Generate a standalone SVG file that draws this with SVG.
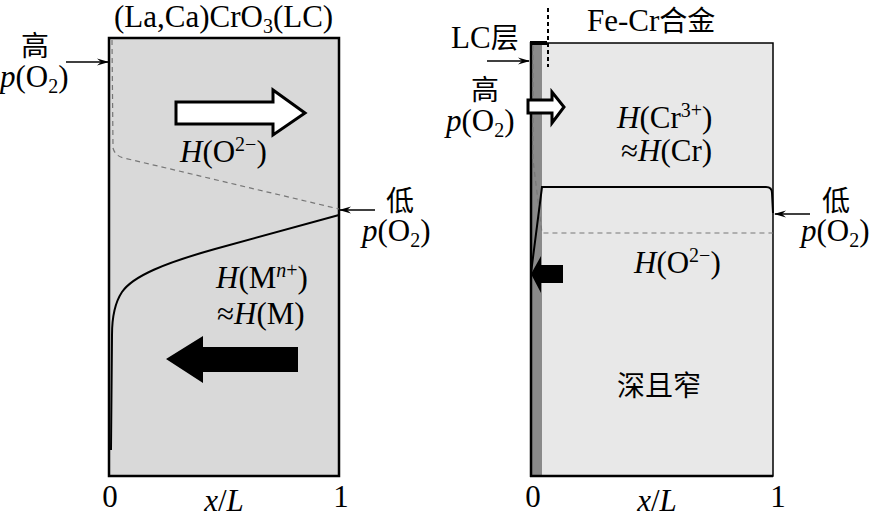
<svg xmlns="http://www.w3.org/2000/svg" width="873" height="518" viewBox="0 0 873 518">
<defs>
<marker id="ah" markerWidth="12" markerHeight="8" refX="11" refY="4" orient="auto" markerUnits="userSpaceOnUse">
<path d="M0,0.5 L12,4 L0,7.5 L4,4 Z" fill="#000"/>
</marker>
</defs>
<style>
text{font-family:"Liberation Serif","Noto Sans CJK SC",serif;font-size:31px;fill:#000}
.cjk{font-family:"Noto Sans CJK SC","Liberation Serif",sans-serif;font-size:28px}
.i{font-style:italic}
.mid{text-anchor:middle}
.ptr{stroke:#000;stroke-width:1.5;fill:none;marker-end:url(#ah)}
.dash{stroke:#777;stroke-width:1.2;fill:none;stroke-dasharray:5 4}
.curve{stroke:#000;stroke-width:2;fill:none}
</style>
<rect width="873" height="518" fill="#fff"/>

<g id="left-panel">
<rect x="109" y="38" width="230" height="438" fill="#d9d9d9" stroke="#000" stroke-width="2.5"/>
<text x="114" y="27">(La,Ca)CrO<tspan font-size="20" dy="6">3</tspan><tspan dy="-6">(LC)</tspan></text>
</g>

<g id="left-curves">
<path class="dash" d="M112,40 L113,148 Q115,156 124,158 L339,209"/>
<path class="curve" d="M339,215 L215,249 C165,263 133,276 122,292 C114,304 112,318 112,335 L111,450"/>
</g>

<g id="left-high">
<text class="cjk" x="21" y="56">高</text>
<text x="0" y="87"><tspan class="i">p</tspan>(O<tspan font-size="20" dy="6">2</tspan><tspan dy="-6">)</tspan></text>
</g>

<g id="left-low">
<text class="cjk" x="386" y="211">低</text>
<text x="362" y="241"><tspan class="i">p</tspan>(O<tspan font-size="20" dy="6">2</tspan><tspan dy="-6">)</tspan></text>
</g>

<g id="left-oxygen">
<polygon points="176,102 273,102 273,90 305,113 273,135 273,124 176,124" fill="#fff" stroke="#000" stroke-width="3"/>
<text x="180" y="162"><tspan class="i">H</tspan>(O<tspan font-size="20" dy="-11">2−</tspan><tspan dy="11">)</tspan></text>
</g>

<g id="left-metal">
<text x="216" y="288"><tspan class="i">H</tspan>(M<tspan font-size="20" dy="-11"><tspan class="i">n</tspan>+</tspan><tspan dy="11">)</tspan></text>
<text x="217" y="324">≈<tspan class="i">H</tspan>(M)</text>
<polygon points="166,359 203,336 203,347 298,347 298,372 203,372 203,383" fill="#000"/>
</g>

<g id="left-axis">
<text class="mid" x="110" y="507">0</text>
<text class="mid" x="341" y="507">1</text>
<text class="mid" x="224" y="511"><tspan class="i">x</tspan>/<tspan class="i">L</tspan></text>
</g>

<g id="right-panel">
<rect x="531" y="43" width="242" height="433" fill="#e8e8e8" stroke="#000" stroke-width="1.5"/>
<rect x="531" y="44" width="11" height="431" fill="#8a8a8a"/>
<line x1="531" y1="42" x2="531" y2="477" stroke="#000" stroke-width="2.5"/>
<line x1="530" y1="476" x2="773" y2="476" stroke="#000" stroke-width="2.5"/>
<rect x="530" y="41" width="17" height="4" fill="#000"/>
<line x1="548" y1="8" x2="548" y2="67" stroke="#000" stroke-width="2" stroke-dasharray="4 3"/>
<text x="587" y="31">Fe-Cr<tspan class="cjk" font-size="30">合金</tspan></text>
<text x="451" y="48">LC<tspan class="cjk" font-size="29">层</tspan></text>
</g>

<g id="right-curves">
<path class="dash" d="M533,46 L533,160 L542,233 L773,233"/>
<path class="curve" d="M531,273 L542,187 L766,187 Q772,187 772,193 L773,213"/>
</g>

<g id="right-high">
<text class="cjk" x="471" y="100">高</text>
<text x="446" y="131"><tspan class="i">p</tspan>(O<tspan font-size="20" dy="6">2</tspan><tspan dy="-6">)</tspan></text>
<polygon points="528,100 552,100 552,92 564,107 552,123 552,113 528,113" fill="#fff" stroke="#000" stroke-width="3"/>
</g>

<g id="right-chromium">
<text x="617" y="128"><tspan class="i">H</tspan>(Cr<tspan font-size="20" dy="-11">3+</tspan><tspan dy="11">)</tspan></text>
<text x="621" y="161">≈<tspan class="i">H</tspan>(Cr)</text>
</g>

<g id="right-low">
<text class="cjk" x="822" y="211">低</text>
<text x="801" y="241"><tspan class="i">p</tspan>(O<tspan font-size="20" dy="6">2</tspan><tspan dy="-6">)</tspan></text>
</g>

<g id="right-oxygen">
<text x="634" y="273"><tspan class="i">H</tspan>(O<tspan font-size="20" dy="-11">2−</tspan><tspan dy="11">)</tspan></text>
<polygon points="531,274 541,256 541,265 563,265 563,283 541,283 541,293" fill="#000"/>
</g>

<g id="right-well">
<text class="cjk" x="617" y="396" font-size="30">深且窄</text>
</g>

<g id="right-axis">
<text class="mid" x="533" y="507">0</text>
<text class="mid" x="778" y="507">1</text>
<text class="mid" x="657" y="511"><tspan class="i">x</tspan>/<tspan class="i">L</tspan></text>
</g>

<g id="connectors">
<line class="ptr" x1="66" y1="62" x2="108" y2="62"/>
<line class="ptr" x1="375" y1="210" x2="340" y2="210"/>
<line class="ptr" x1="487" y1="61" x2="529" y2="61"/>
<line class="ptr" x1="810" y1="214" x2="775" y2="214"/>
</g>
</svg>
